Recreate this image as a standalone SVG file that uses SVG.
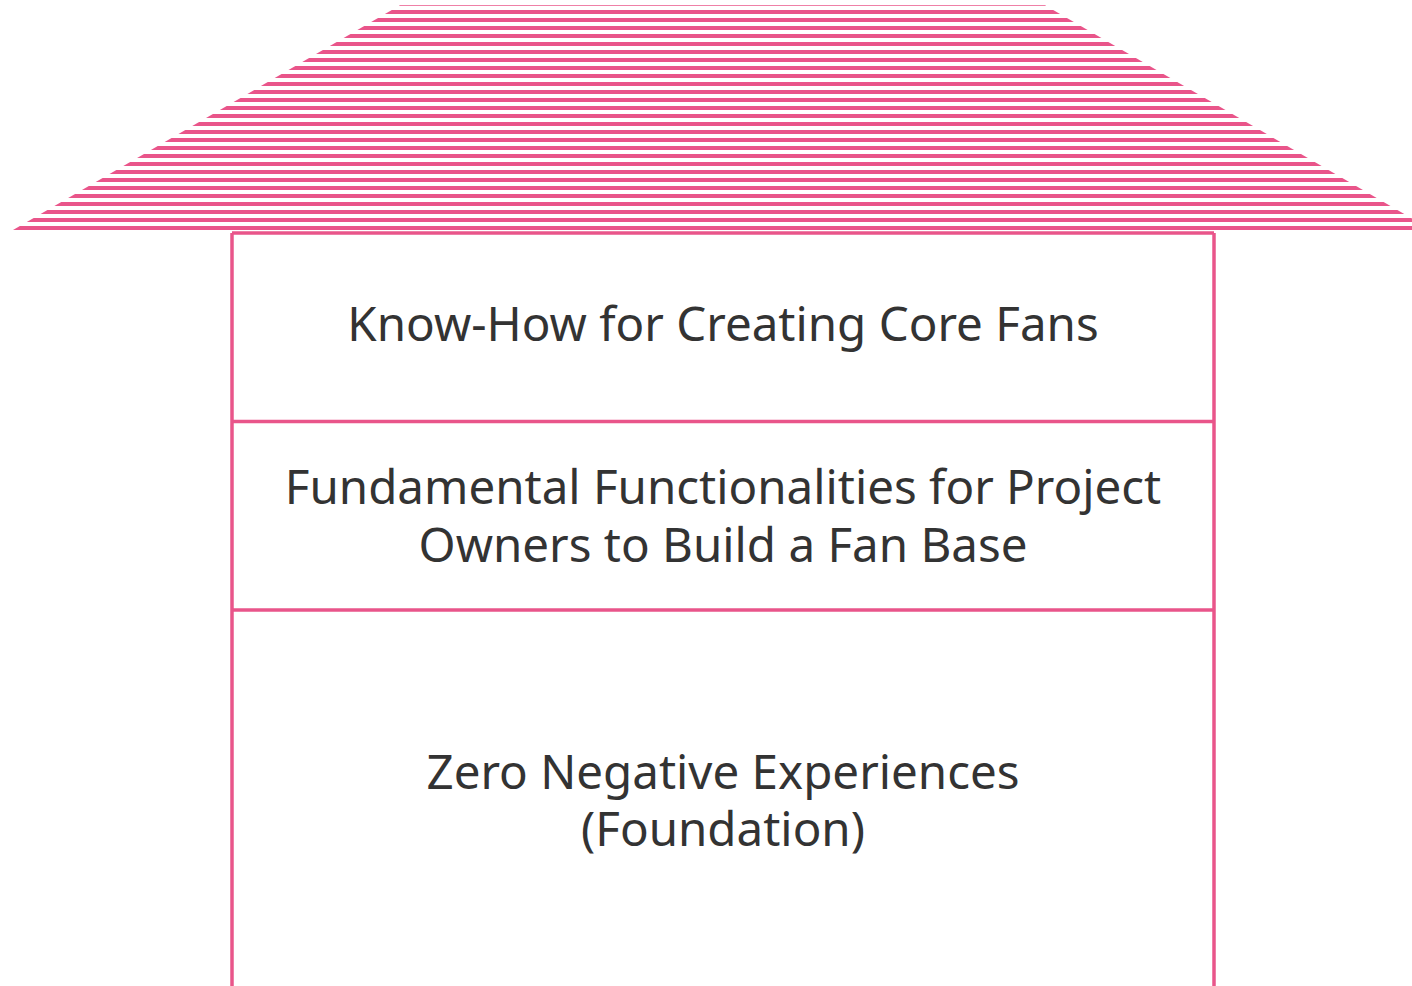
<svg xmlns="http://www.w3.org/2000/svg" width="1412" height="986" viewBox="0 0 1412 986">
<style>
.t{font-family:"Noto Sans","Open Sans","Liberation Sans",sans-serif;font-size:47.5px;fill:#333333;text-anchor:middle}
.ln{stroke:#E9558A;stroke-width:3.5;fill:none}
</style>
<defs>
<pattern id="stripes" patternUnits="userSpaceOnUse" x="0" y="2" width="20" height="8">
<rect x="0" y="0" width="20" height="4" fill="#E9558A"/>
</pattern>
</defs>
<rect width="1412" height="986" fill="#ffffff"/>
<g id="roof">
<polygon points="400,5.3 1045,5.3 1432,230 13,230" fill="url(#stripes)"/>
</g>
<g id="body">
<line class="ln" x1="232" y1="233" x2="1214" y2="233"/>
<line class="ln" x1="232" y1="233" x2="232" y2="990"/>
<line class="ln" x1="1214" y1="233" x2="1214" y2="990"/>
</g>
<g id="connectors">
<line class="ln" x1="232" y1="421.5" x2="1214" y2="421.5"/>
<line class="ln" x1="232" y1="610" x2="1214" y2="610"/>
</g>
<g id="level3">
<text class="t" x="723" y="341">Know-How for Creating Core Fans</text>
</g>
<g id="level2">
<text class="t" x="723" y="504">Fundamental Functionalities for Project<tspan x="723" dy="58">Owners to Build a Fan Base</tspan></text>
</g>
<g id="level1">
<text class="t" x="723" y="789">Zero Negative Experiences<tspan x="723" dy="57">(Foundation)</tspan></text>
</g>
</svg>
